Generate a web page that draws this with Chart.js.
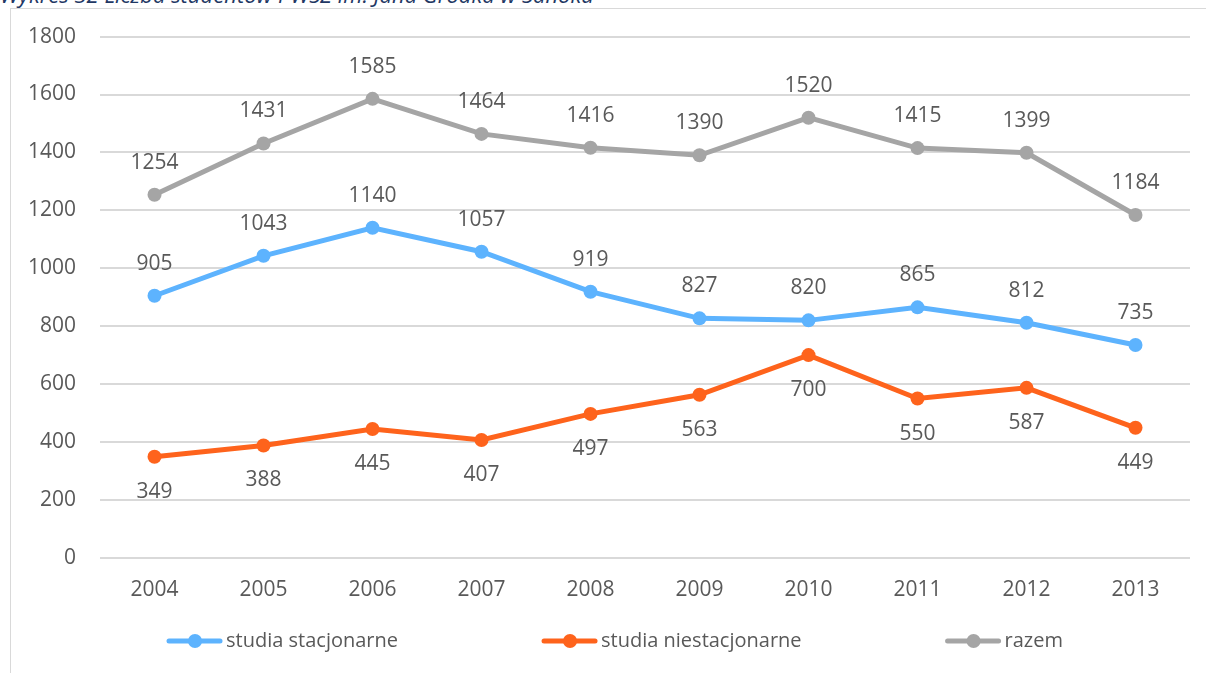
<!DOCTYPE html>
<html lang="pl">
<head>
<meta charset="utf-8">
<title>Liczba studentów</title>
<script src="https://cdn.jsdelivr.net/npm/chart.js@4"></script>
<style>
  html, body { margin: 0; padding: 0; background: #fff; overflow: hidden; }
  body { width: 1206px; height: 673px; position: relative; }
  #caption {
    position: absolute; left: 0; top: -17px;
    font: italic 22px "Open Sans", sans-serif; color: #1f3864;
    line-height: 22px; white-space: nowrap;
  }
  #frame {
    position: absolute; left: 10px; top: 8px; width: 1220px; height: 700px;
    border: 1px solid #d9d9d9; box-sizing: border-box;
  }
  #wrap { position: absolute; left: 0; top: 0; width: 1206px; height: 673px; }
</style>
</head>
<body>
<div id="caption">Wykres 32 Liczba studentów PWSZ im. Jana Grodka w Sanoku</div>
<div id="frame"></div>
<div id="wrap"><canvas id="chart"></canvas></div>
<script>
// lata i liczby studentów
const years = ['2004', '2005', '2006', '2007', '2008', '2009', '2010', '2011', '2012', '2013'];
const stacjonarne = [905, 1043, 1140, 1057, 919, 827, 820, 865, 812, 735];
const niestacjonarne = [349, 388, 445, 407, 497, 563, 700, 550, 587, 449];
const razem = [1254, 1431, 1585, 1464, 1416, 1390, 1520, 1415, 1399, 1184];

const textColor = '#595959';
const font = '"Open Sans", sans-serif';

// etykiety wartości nad / pod punktami
const valueLabels = {
  id: 'valueLabels',
  afterDatasetsDraw(chart) {
    const ctx = chart.ctx;
    ctx.save();
    ctx.font = '21px ' + font;
    ctx.fillStyle = textColor;
    ctx.textAlign = 'center';
    ctx.textBaseline = 'middle';
    chart.data.datasets.forEach((ds, i) => {
      const meta = chart.getDatasetMeta(i);
      meta.data.forEach((pt, j) => {
        const dy = ds.labelBelow ? 35 : -32;
        ctx.fillText(String(ds.data[j]), pt.x, pt.y + dy);
      });
    });
    ctx.restore();
  }
};

// legenda jak w Excelu: linia z kółkiem + opis, stały odstęp między pozycjami
const excelLegend = {
  id: 'excelLegend',
  afterDraw(chart) {
    const ctx = chart.ctx;
    const area = chart.chartArea;
    const gap = 144;
    const y = 641;
    let x = area.left + 67;
    ctx.save();
    ctx.font = '20px ' + font;
    ctx.textBaseline = 'middle';
    ctx.textAlign = 'left';
    chart.data.datasets.forEach(ds => {
      ctx.strokeStyle = ds.borderColor;
      ctx.fillStyle = ds.borderColor;
      ctx.lineWidth = 5;
      ctx.lineCap = 'round';
      ctx.beginPath();
      ctx.moveTo(x + 2, y);
      ctx.lineTo(x + 53, y);
      ctx.stroke();
      ctx.beginPath();
      ctx.arc(x + 28, y, 7, 0, Math.PI * 2);
      ctx.fill();
      ctx.fillStyle = textColor;
      ctx.fillText(ds.label, x + 59, y);
      x += 59 + ctx.measureText(ds.label).width + gap;
    });
    ctx.restore();
  }
};

function series(label, data, color, below) {
  return {
    label,
    data,
    borderColor: color,
    backgroundColor: color,
    borderWidth: 5,
    pointRadius: 7,
    pointHoverRadius: 7,
    pointBorderWidth: 0,
    tension: 0,
    labelBelow: below
  };
}

new Chart(document.getElementById('chart'), {
  type: 'line',
  data: {
    labels: years,
    datasets: [
      series('studia stacjonarne', stacjonarne, '#5db3fe', false),
      series('studia niestacjonarne', niestacjonarne, '#fe631c', true),
      series('razem', razem, '#a5a5a5', false)
    ]
  },
  options: {
    responsive: true,
    maintainAspectRatio: false,
    animation: false,
    layout: { padding: { left: 4, right: 16, top: 31, bottom: 58 } },
    plugins: {
      tooltip: { enabled: false },
      legend: { display: false }
    },
    scales: {
      x: {
        offset: true,
        grid: { display: false },
        border: { display: false },
        ticks: { color: textColor, font: { size: 21, family: font }, padding: 12 }
      },
      y: {
        min: 0,
        max: 1800,
        ticks: {
          stepSize: 200,
          color: textColor,
          font: { size: 21, family: font },
          padding: 24,
          callback: v => String(v)
        },
        grid: { color: '#d9d9d9', lineWidth: 2, drawTicks: false },
        border: { display: false }
      }
    }
  },
  plugins: [valueLabels, excelLegend]
});
</script>
</body>
</html>
